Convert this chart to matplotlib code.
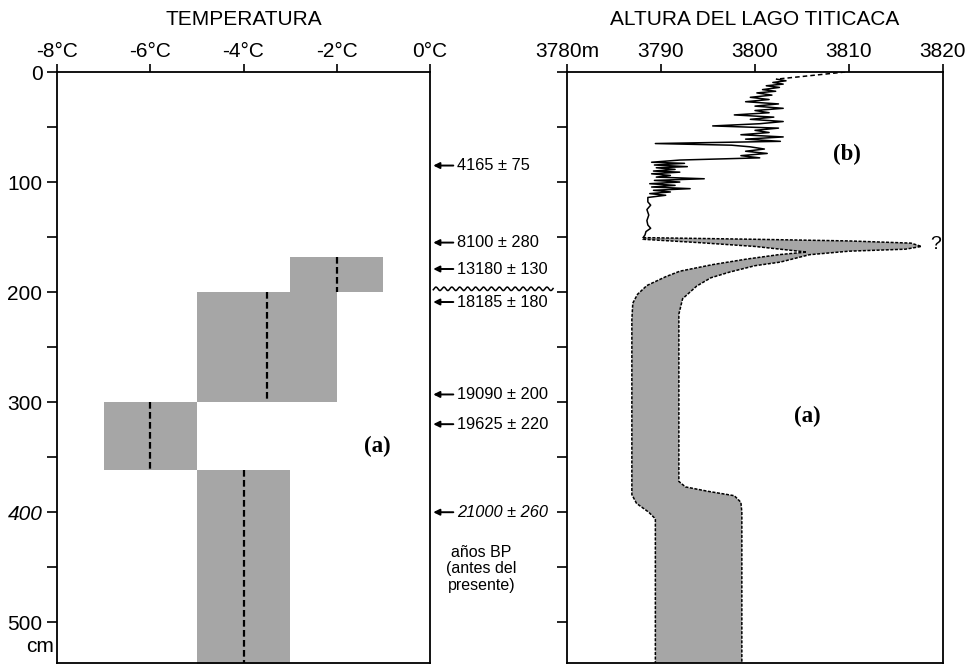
import numpy as np
import matplotlib.pyplot as plt
from matplotlib.patches import Polygon

plt.rcParams['font.family'] = ['Liberation Sans', 'DejaVu Sans']

# temperature blocks: (t_min, t_max, depth_top, depth_bottom, t_mean)
temp_lo = [-3, -5, -7, -5]
temp_hi = [-1, -2, -5, -3]
temp_top = [168, 200, 300, 362]
temp_bot = [200, 300, 362, 540]
temp_mid = [-2, -3.5, -6, -4]

# radiocarbon dates (depth in cm)
date_depth = [85, 155, 179, 209, 293, 320, 400]
date_text = ["4165 ± 75", "8100 ± 280", "13180 ± 130", "18185 ± 180",
             "19090 ± 200", "19625 ± 220", "21000 ± 260"]
hiatus_depth = 197

# lake level, top dashed piece
top_depth = [0, 6.5]
top_level = [3809.6, 3802.3]

# lake level, measured curve
lake_depth = [6.5, 8, 9.5, 11, 12.5, 14, 16, 17.5, 19, 21, 23, 25, 27, 29, 31, 33,
              35, 37, 39, 41, 43, 45, 47, 49, 51, 53, 55, 57, 59, 61, 63, 65,
              66.5, 68, 70, 72, 74, 76, 78, 80, 82, 83, 84.5, 86, 87, 88.5, 90,
              91, 92.5, 94, 95.5, 97, 98.5, 100, 101.5, 103, 104.5, 106, 107.5,
              109, 110.5, 112, 114, 118, 121, 125, 130, 135, 139, 142, 145, 148, 150.5]
lake_level = [3802.3, 3803.3, 3801.9, 3803.0, 3801.2, 3802.6, 3800.8, 3802.2,
              3800.2, 3801.8, 3799.5, 3801.5, 3799.0, 3802.5, 3800.0, 3803.0,
              3800.0, 3801.5, 3797.8, 3802.0, 3799.5, 3803.0, 3800.5, 3795.5,
              3802.5, 3800.0, 3801.5, 3798.5, 3803.0, 3799.0, 3802.7, 3789.4,
              3797.5, 3799.5, 3801.0, 3799.0, 3801.3, 3798.5, 3800.5, 3792.0,
              3789.0, 3792.5, 3789.3, 3792.8, 3789.5, 3791.5, 3789.2, 3792.0,
              3789.0, 3791.0, 3789.5, 3794.6, 3789.3, 3792.0, 3788.8, 3791.5,
              3789.0, 3793.1, 3789.2, 3791.0, 3788.8, 3790.5, 3788.6, 3788.6,
              3788.9, 3788.5, 3788.7, 3788.5, 3788.6, 3788.9, 3788.4, 3788.3, 3788.1]

# lake level uncertainty band outline (level, depth)
band_level = [3788.1, 3800, 3810, 3816.6, 3817.7, 3816, 3810, 3805.8, 3802.7, 3800,
              3797.3, 3795.3, 3793.8, 3792.3, 3791.9, 3791.9, 3792.6, 3795, 3797.8,
              3798.5, 3798.6, 3798.6, 3789.4, 3789.4, 3788.7, 3787.4, 3786.9, 3786.9,
              3787.0, 3787.5, 3788.5, 3790.5, 3792, 3795.5, 3799.1, 3802.5, 3805.5,
              3800, 3794, 3788.1]
band_depth = [150.5, 152, 153.5, 155.5, 158.5, 161, 162.8, 166, 172.7, 176,
              181.8, 187, 194.5, 206, 220, 372, 377, 381, 385,
              391, 400, 540, 540, 406, 400, 392, 384, 225,
              210, 202, 194, 186, 181, 175, 170, 166, 163.6,
              158.5, 155, 152]

temp_ticks = [-8, -6, -4, -2, 0]
temp_labels = ["-8°C", "-6°C", "-4°C", "-2°C", "0°C"]
lvl_ticks = [3780, 3790, 3800, 3810, 3820]
lvl_labels = ["3780m", "3790", "3800", "3810", "3820"]

fill = '#a6a6a6'

fig = plt.figure(figsize=(9.74, 6.65), dpi=100)
ax1 = fig.add_axes([57/974, 2/665, 373/974, 591/665])
ax2 = fig.add_axes([567/974, 2/665, 376/974, 591/665])

# left panel: temperature
for lo, hi, t, b, m in zip(temp_lo, temp_hi, temp_top, temp_bot, temp_mid):
    ax1.fill_between([lo, hi], t, b, color=fill, lw=0)
    ax1.plot([m, m], [t, b], color='black', ls=(0, (3, 1.5)), lw=1.6)

ax1.set_xlim(-8, 0)
ax1.set_ylim(537, 0)
ax1.xaxis.tick_top()
ax1.set_xticks(temp_ticks)
ax1.set_xticklabels(temp_labels)
ax1.set_yticks([0, 100, 200, 300, 400, 500])
ax1.set_yticks([50, 150, 250, 350, 450], minor=True)
ax1.set_yticklabels(["0", "100", "200", "300", "400", "500"])
ax1.get_yticklabels()[4].set_style('italic')
ax1.tick_params(axis='y', which='both', direction='out', length=7, width=1.2,
                labelsize=15, pad=3.5)
ax1.tick_params(axis='x', direction='out', length=6, width=1.2, labelsize=15, pad=2)
ax1.set_title("TEMPERATURA", fontsize=15, pad=34)
ax1.text(-8.36, 522, "cm", fontsize=15, ha='center', va='center', clip_on=False)
ax1.text(-1.13, 340, "(a)", family='Liberation Serif', weight='bold', fontsize=16.5,
         ha='center', va='center')

# dates between the panels
for d, s in zip(date_depth, date_text):
    ax1.annotate("", xy=(0.07, d), xytext=(0.5, d),
                 arrowprops=dict(arrowstyle='-|>', color='black', lw=1.4,
                                 mutation_scale=9, shrinkA=0, shrinkB=0),
                 annotation_clip=False)
    ax1.text(0.58, d, s, fontsize=11.8, ha='left', va='center',
             style='italic' if s.startswith("21000") else 'normal', clip_on=False)

wx = np.linspace(0.07, 2.64, 400)
ax1.plot(wx, hiatus_depth + 1.6 * np.sin(wx / 0.17 * 2 * np.pi), color='black',
         lw=1.1, clip_on=False)
ax1.text(1.1, 430, "años BP\n(antes del\npresente)", fontsize=11.5, ha='center',
         va='top', linespacing=1.1, clip_on=False)

# right panel: lake level
ax2.add_patch(Polygon(np.column_stack([band_level, band_depth]), closed=True,
                      facecolor=fill, edgecolor='black', lw=1.1, ls=(0, (2, 1))))
ax2.plot(top_level, top_depth, color='black', ls=(0, (3, 2)), lw=1.1)
ax2.plot(lake_level, lake_depth, color='black', lw=1.1)

ax2.set_xlim(3780, 3820)
ax2.set_ylim(537, 0)
ax2.xaxis.tick_top()
ax2.set_xticks(lvl_ticks)
ax2.set_xticklabels(lvl_labels)
ax2.set_yticks(np.arange(0, 501, 50))
ax2.set_yticklabels([])
ax2.tick_params(axis='y', direction='out', length=7, width=1.2)
ax2.tick_params(axis='x', direction='out', length=6, width=1.2, labelsize=15, pad=2)
ax2.set_title("ALTURA DEL LAGO TITICACA", fontsize=15, pad=34)
ax2.text(3809.8, 75, "(b)", family='Liberation Serif', weight='bold', fontsize=16.5,
         ha='center', va='center')
ax2.text(3805.6, 313, "(a)", family='Liberation Serif', weight='bold', fontsize=16.5,
         ha='center', va='center')
ax2.text(3819.2, 157, "?", fontsize=14, ha='center', va='center')

for ax in (ax1, ax2):
    for sp in ax.spines.values():
        sp.set_linewidth(1.3)

fig.savefig("out.png", dpi=100)
